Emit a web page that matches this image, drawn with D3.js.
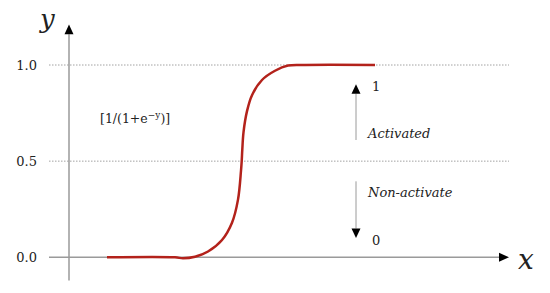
<!DOCTYPE html>
<html>
<head>
<meta charset="utf-8">
<script src="https://cdn.jsdelivr.net/npm/d3@7"></script>
<style>
  body { margin: 0; background: #fff; }
  text { font-family: "DejaVu Serif", "Liberation Serif", serif; fill: #222; }
</style>
</head>
<body>
<div id="chart"></div>
<script>
// curve (x in arbitrary units, y = activation)
var curveX = [3.8, 10.6, 11.4, 12.6, 13.9, 15.3, 16.3, 16.9, 17.2, 17.27, 17.33, 17.45, 17.8, 18.3, 19.3, 20.6, 21.9, 23.6, 30.6];
var curveY = [0.0, 0.0, -0.005, 0.003, 0.03, 0.09, 0.18, 0.30, 0.45, 0.50, 0.56, 0.65, 0.76, 0.843, 0.922, 0.97, 0.997, 1.0, 1.0];
var yTicks = [0.0, 0.5, 1.0];
var gridLevels = [0.5, 1.0];
var formulaLabel = "[1/(1+e";
var upLabels = ["1", "Activated"];
var downLabels = ["Non-activate", "0"];

var width = 550, height = 293;

var svg = d3.select("#chart").append("svg")
    .attr("width", width)
    .attr("height", height);

var x = d3.scaleLinear().domain([0, 44]).range([69, 509]);
var y = d3.scaleLinear().domain([0, 1]).range([257.3, 65]);

// dotted grid lines
svg.selectAll(".grid").data(gridLevels).enter().append("line")
    .attr("class", "grid")
    .attr("x1", x(-2)).attr("x2", x(44))
    .attr("y1", function (d) { return y(d); })
    .attr("y2", function (d) { return y(d); })
    .attr("stroke", "#8a8a8a")
    .attr("stroke-width", 0.8)
    .attr("stroke-dasharray", "1.5,1.5");

// x axis line (the zero line) with arrow
svg.append("line")
    .attr("x1", x(-2)).attr("x2", x(43))
    .attr("y1", y(0)).attr("y2", y(0))
    .attr("stroke", "#9a9a9a").attr("stroke-width", 1.5);
svg.append("path")
    .attr("d", d3.line()([[x(43), y(0) - 4.5], [x(44), y(0)], [x(43), y(0) + 4.5]]) + "Z")
    .attr("fill", "#000");

// y axis line with arrow
svg.append("line")
    .attr("x1", x(0)).attr("x2", x(0))
    .attr("y1", y(-0.12)).attr("y2", y(1.16))
    .attr("stroke", "#9a9a9a").attr("stroke-width", 1.5);
svg.append("path")
    .attr("d", d3.line()([[x(0) - 4.5, y(1.16)], [x(0), y(1.21)], [x(0) + 4.5, y(1.16)]]) + "Z")
    .attr("fill", "#000");

// tick labels
svg.selectAll(".ytick").data(yTicks).enter().append("text")
    .attr("class", "ytick")
    .attr("x", 37)
    .attr("y", function (d) { return y(d); })
    .attr("dy", "0.35em")
    .attr("text-anchor", "end")
    .attr("font-size", 13)
    .text(function (d) { return d3.format(".1f")(d); });

// axis titles
svg.append("text")
    .attr("x", 40).attr("y", 28)
    .attr("font-size", 26)
    .attr("font-style", "italic")
    .text("y");
svg.append("text")
    .attr("x", 518).attr("y", 269)
    .attr("font-size", 28)
    .attr("font-style", "italic")
    .text("x");

// the curve
svg.append("path")
    .datum(d3.zip(curveX, curveY))
    .attr("d", d3.line()
        .x(function (d) { return x(d[0]); })
        .y(function (d) { return y(d[1]); })
        .curve(d3.curveCatmullRom.alpha(0.5)))
    .attr("fill", "none")
    .attr("stroke", "#b3221b")
    .attr("stroke-width", 2.5);

// formula label
var f = svg.append("text")
    .attr("x", 100).attr("y", 123)
    .attr("font-size", 12.5);
f.append("tspan").text(formulaLabel);
f.append("tspan").attr("dy", -5).attr("font-size", 9).text("\u2212y");
f.append("tspan").attr("dy", 5).text(")]");

// activation arrows
var ax = x(28.7);
svg.append("line")
    .attr("x1", ax).attr("x2", ax)
    .attr("y1", y(0.61)).attr("y2", y(0.85))
    .attr("stroke", "#9a9a9a").attr("stroke-width", 1);
svg.append("path")
    .attr("d", d3.line()([[ax - 4.5, y(0.85)], [ax, y(0.9)], [ax + 4.5, y(0.85)]]) + "Z")
    .attr("fill", "#000");
svg.append("line")
    .attr("x1", ax).attr("x2", ax)
    .attr("y1", y(0.395)).attr("y2", y(0.15))
    .attr("stroke", "#9a9a9a").attr("stroke-width", 1);
svg.append("path")
    .attr("d", d3.line()([[ax - 4.5, y(0.15)], [ax, y(0.1)], [ax + 4.5, y(0.15)]]) + "Z")
    .attr("fill", "#000");

svg.append("text").attr("x", 372).attr("y", 91).attr("font-size", 13).text(upLabels[0]);
svg.append("text").attr("x", 368).attr("y", 138).attr("font-size", 13)
    .attr("font-style", "italic").text(upLabels[1]);
svg.append("text").attr("x", 368).attr("y", 197).attr("font-size", 13)
    .attr("font-style", "italic").text(downLabels[0]);
svg.append("text").attr("x", 372).attr("y", 245).attr("font-size", 13).text(downLabels[1]);
</script>
</body>
</html>
